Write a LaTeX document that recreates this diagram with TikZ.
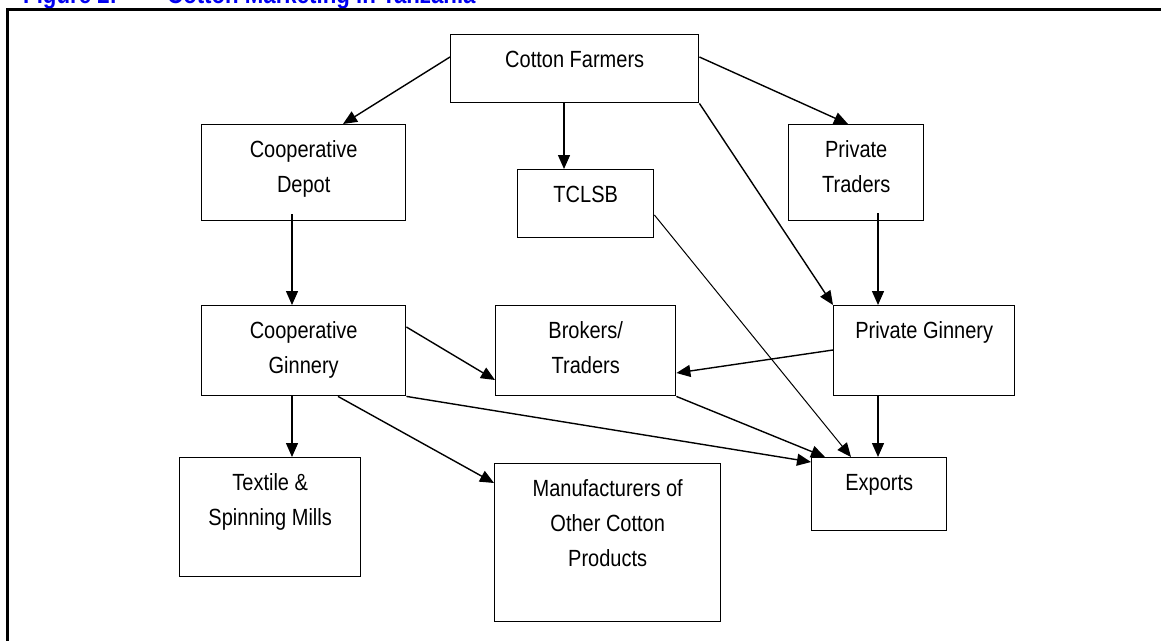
\documentclass[tikz,border=0pt]{standalone}
\usepackage{fontspec}
\setmainfont{Liberation Sans}
\newfontfamily\boxfont[FakeStretch=0.855]{Liberation Sans}
\usetikzlibrary{calc,arrows.meta}
\definecolor{titleblue}{RGB}{0,0,240}
\newcommand{\bxt}[3]{\parbox[t][#2pt][t]{#1pt}{\centering\rule{0pt}{33pt}#3}}
\tikzset{
  box/.style={draw, line width=1.4pt, rectangle, inner sep=0pt, anchor=north west,
    font=\boxfont\fontsize{23.4}{35}\selectfont},
  flow/.style={line width=1.4pt, -{Triangle[length=14pt,width=12pt]}},
  thinflow/.style={line width=1pt, -{Triangle[length=14pt,width=12pt]}},
  ttl/.style={font=\boxfont\fontsize{26}{30}\selectfont\bfseries, text=titleblue, anchor=base west, inner sep=0pt}
}
\begin{document}
\begin{tikzpicture}[x=1pt,y=-1pt]
\useasboundingbox (0,0) rectangle (1161,640);
\clip (0,0) rectangle (1161,640);
% title (cut off at top)
\node[ttl] (fig) at (23,3.5) {Figure 2:};
\node[ttl] (title) at (167,3.5) {Cotton Marketing in Tanzania};
% frame
\draw[line width=2.6pt] (7.5,660) -- (7.5,9.5) -- (1180,9.5);
% boxes
\node[box] (cf) at (450,34)  {\bxt{248}{68}{Cotton Farmers}};
\node[box] (cd) at (201,124) {\bxt{204}{96}{Cooperative\\Depot}};
\node[box] (tc) at (517,169) {\bxt{136}{68}{TCLSB}};
\node[box] (pt) at (788,124) {\bxt{135}{96}{Private\\Traders}};
\node[box] (cg) at (201,305) {\bxt{204}{90}{Cooperative\\Ginnery}};
\node[box] (bt) at (495,305) {\bxt{180}{90}{Brokers/\\Traders}};
\node[box] (pg) at (833,305) {\bxt{181}{90}{Private Ginnery}};
\node[box] (ex) at (811,457) {\bxt{135}{73}{Exports}};
\node[box] (ts) at (179,457) {\bxt{181}{119}{Textile \&\\Spinning Mills}};
\node[box] (mf) at (494,463) {\bxt{226}{158}{Manufacturers of\\Other Cotton\\Products}};
% connectors
\draw[flow] ($(cf.north west)+(0,23)$) -- ($(cd.north west)+(142,0)$);
\draw[flow] ($(cf.south west)+(114,0)$) -- ($(tc.north west)+(47,0)$);
\draw[flow] ($(cf.north east)+(0,23)$) -- ($(pt.north west)+(60,0)$);
\draw[flow] (cf.south east) -- (pg.north west);
\draw[flow] ($(pt.north west)+(90,89)$) -- ($(pg.north west)+(45,0)$);
\draw[flow] ($(cd.north west)+(91,90)$) -- ($(cg.north west)+(91,0)$);
\draw[thinflow] ($(tc.north east)+(0,46)$) -- ($(ex.north west)+(40,0)$);
\draw[flow] ($(cg.north east)+(0,22)$) -- ($(bt.north west)+(0,75)$);
\draw[flow] ($(pg.north west)+(0,45)$) -- ($(bt.north east)+(0,68)$);
\draw[flow] ($(cg.south west)+(91,0)$) -- ($(ts.north west)+(113,0)$);
\draw[flow] ($(cg.south west)+(137,0)$) -- ($(mf.north west)+(0,20)$);
\draw[flow] (cg.south east) -- ($(ex.north west)+(0,5)$);
\draw[flow] (bt.south east) -- ($(ex.north west)+(14,0)$);
\draw[flow] ($(pg.south west)+(45,0)$) -- ($(ex.north west)+(67,0)$);
\end{tikzpicture}
\end{document}
